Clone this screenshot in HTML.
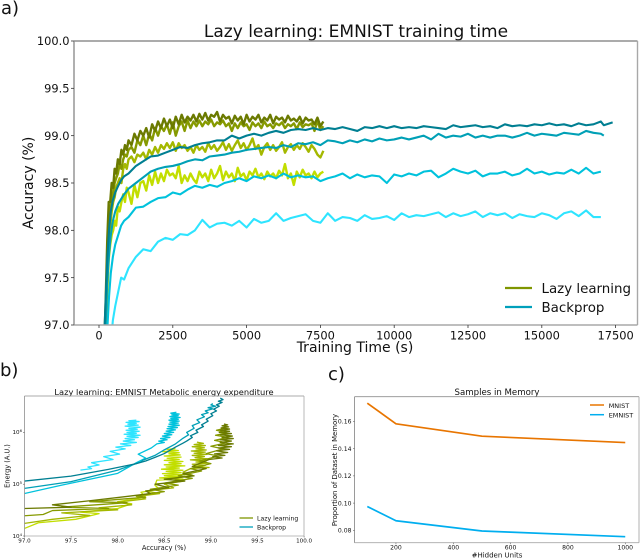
<!DOCTYPE html>
<html>
<head>
<meta charset="utf-8">
<title>Lazy learning charts</title>
<style>
html,body{margin:0;padding:0;background:#fff;width:640px;height:558px;overflow:hidden}
svg{display:block}
text{font-family:"DejaVu Sans","Liberation Sans",sans-serif;fill:#111}
</style>
</head>
<body>
<svg id="fig" width="640" height="558" viewBox="0 0 640 558" xmlns="http://www.w3.org/2000/svg">
  <defs>
    <clipPath id="clipA"><rect x="74" y="41" width="563.5" height="284"/></clipPath>
    <clipPath id="clipB"><rect x="24.5" y="396" width="279.5" height="140"/></clipPath>
  </defs>
  <text x="1" y="14" font-size="18">a)</text>
  <text x="0" y="376" font-size="18">b)</text>
  <text x="328" y="380" font-size="18">c)</text>

  <g id="panelA" style="filter:blur(.3px)">
    <text x="356" y="37" font-size="17" text-anchor="middle">Lazy learning: EMNIST training time</text>
    <text x="355" y="352" font-size="14" text-anchor="middle">Training Time (s)</text>
    <text x="0" y="0" font-size="14" text-anchor="middle" transform="translate(33 183) rotate(-90)">Accuracy (%)</text>
    <g id="aMarks"></g>
    <g id="aAxes"></g>
    <g>
      <line x1="505" x2="532" y1="288" y2="288" stroke="#7f9600" stroke-width="2.2"/>
      <text x="541.5" y="293" font-size="13.4">Lazy learning</text>
      <line x1="505" x2="532" y1="307" y2="307" stroke="#00a0bb" stroke-width="2.2"/>
      <text x="541.5" y="312" font-size="13.4">Backprop</text>
    </g>
  </g>

  <g id="panelB" style="filter:blur(.3px)">
    <text x="164" y="395" font-size="8.3" text-anchor="middle">Lazy learning: EMNIST Metabolic energy expenditure</text>
    <text x="164" y="550" font-size="6.7" text-anchor="middle">Accuracy (%)</text>
    <text x="0" y="0" font-size="6.6" text-anchor="middle" transform="translate(9.5 466) rotate(-90)">Energy (A.U.)</text>
    <g id="bMarks"></g>
    <g id="bAxes"></g>
    <g>
      <line x1="239.5" x2="253" y1="518" y2="518" stroke="#7f9600" stroke-width="1.3"/>
      <text x="257" y="520.5" font-size="6.2">Lazy learning</text>
      <line x1="239.5" x2="253" y1="527" y2="527" stroke="#00a0bb" stroke-width="1.3"/>
      <text x="257" y="529.5" font-size="6.2">Backprop</text>
    </g>
  </g>

  <g id="panelC" style="filter:blur(.3px)">
    <text x="497" y="395" font-size="8.6" text-anchor="middle">Samples in Memory</text>
    <text x="497" y="557.5" font-size="7" text-anchor="middle">#Hidden Units</text>
    <text x="0" y="0" font-size="6.9" text-anchor="middle" transform="translate(337 470) rotate(-90)">Proportion of Dataset in Memory</text>
    <g id="cMarks"></g>
    <g id="cAxes"></g>
    <g>
      <line x1="590" x2="604" y1="405" y2="405" stroke="#e87500" stroke-width="1.5"/>
      <text x="608.7" y="408" font-size="6.5">MNIST</text>
      <line x1="590" x2="604" y1="414.7" y2="414.7" stroke="#00aeef" stroke-width="1.5"/>
      <text x="608.7" y="417.5" font-size="6.5">EMNIST</text>
    </g>
  </g>
</svg>

<script>
/* ---------- Panel A data ---------- */
const lazyTime = [180,230,280,330,380,430,480,530,580,640,
700,760,820,880,940,1000,1100,1200,1300,1400,
1500,1600,1700,1800,1900,2000,2100,2200,2300,2400,
2500,2600,2700,2800,2900,3000,3100,3200,3300,3400,
3500,3600,3700,3800,3900,4000,4100,4200,4300,4400,
4500,4600,4700,4800,4900,5000,5100,5200,5300,5400,
5500,5600,5700,5800,5900,6000,6100,6200,6300,6400,
6500,6600,6700,6800,6900,7000,7100,7200,7300,7400,
7500,7600];
const lazyA1 = [96.8,97.3,97.9,98.3,98.3,98.5,98.45,98.65,98.6,98.75,
98.7,98.85,98.8,98.9,98.85,98.95,98.9,99.02,98.95,99.05,
99.0,99.08,98.98,99.12,99.05,99.15,99.08,99.18,99.1,99.17,
99.08,99.2,99.12,99.22,99.14,99.2,99.16,99.22,99.15,99.23,
99.17,99.24,99.16,99.22,99.2,99.25,99.15,99.22,99.18,99.2,
99.13,99.21,99.16,99.2,99.12,99.22,99.15,99.2,99.17,99.22,
99.14,99.19,99.16,99.22,99.13,99.2,99.17,99.19,99.14,99.21,
99.16,99.18,99.15,99.2,99.13,99.19,99.16,99.17,99.12,99.19,
99.1,99.15];
const lazyA2 = [96.7,97.1,97.6,98.0,98.25,98.3,98.4,98.5,98.55,98.6,
98.7,98.65,98.75,98.8,98.78,98.85,98.88,98.82,98.95,98.9,
99.0,98.9,99.02,98.95,99.08,99.0,99.1,99.05,99.12,99.02,
99.14,99.0,99.1,99.15,99.05,99.16,99.08,99.15,99.1,99.16,
99.1,99.15,99.12,99.17,99.1,99.14,99.12,99.16,99.1,99.13,
99.05,99.13,99.08,99.14,99.1,99.12,99.06,99.14,99.1,99.13,
99.08,99.15,99.1,99.12,99.08,99.13,99.11,99.14,99.08,99.12,
99.1,99.13,99.07,99.14,99.09,99.12,99.11,99.13,99.05,99.16,
99.06,99.1];
const lazyA3 = [96.5,97.0,97.5,97.85,98.05,98.2,98.3,98.35,98.45,98.5,
98.55,98.5,98.65,98.7,98.65,98.75,98.78,98.72,98.8,98.78,
98.82,98.75,98.85,98.8,98.88,98.82,98.9,98.86,98.92,98.87,
98.93,98.84,98.92,98.87,98.9,98.84,98.88,98.82,98.9,98.85,
98.88,98.83,98.92,98.86,98.9,98.84,98.88,98.93,98.85,98.91,
98.84,98.9,98.95,98.87,98.92,98.85,98.9,98.97,98.86,98.9,
98.8,98.88,98.92,98.85,98.9,98.84,98.88,98.93,98.82,98.88,
98.91,98.85,98.9,98.86,98.92,98.88,98.83,98.9,98.86,98.8,
98.77,98.84];
const lazyA4 = [96.4,96.9,97.35,97.7,97.85,97.95,98.0,98.1,98.05,98.25,
98.2,98.3,98.38,98.3,98.45,98.4,98.28,98.48,98.35,98.5,
98.52,98.42,98.58,98.48,98.62,98.5,98.6,98.52,98.64,98.58,
98.6,98.55,98.68,98.5,98.58,98.52,98.6,98.54,98.5,98.62,
98.56,98.6,98.52,98.64,98.55,98.6,98.68,98.53,98.62,98.56,
98.6,98.52,98.66,98.57,98.6,98.53,98.62,98.58,98.65,98.56,
98.6,98.54,98.62,98.57,98.6,98.55,98.63,98.58,98.7,98.55,
98.6,98.48,98.62,98.56,98.64,98.58,98.6,98.55,98.62,98.56,
98.6,98.62];
const backTime = [180,230,280,340,400,470,550,650,750,850,
1000,1250,1500,1750,2000,2250,2500,2750,3000,3250,
3500,3750,4000,4250,4500,4750,5000,5250,5500,5750,
6000,6250,6500,6750,7000,7250,7500,7750,8000,8250,
8500,8750,9000,9250,9500,9750,10000,10250,10500,10750,
11000,11250,11500,11750,12000,12250,12500,12750,13000,13250,
13500,13750,14000,14250,14500,14750,15000,15250,15500,15750,
16000,16250,16500,16750,17000,17100,17400];
const backA1 = [96.9,97.3,97.7,98.0,98.2,98.32,98.4,98.47,98.53,98.57,
98.6,98.68,98.73,98.78,98.79,98.82,98.85,98.88,98.87,98.9,
98.92,98.93,98.95,98.95,99.0,98.97,99.0,99.02,99.0,99.03,
99.05,99.03,99.06,99.07,99.06,99.08,99.06,99.08,99.07,99.09,
99.07,99.05,99.09,99.08,99.1,99.08,99.1,99.08,99.09,99.08,
99.1,99.09,99.08,99.07,99.11,99.09,99.1,99.11,99.09,99.1,
99.08,99.12,99.1,99.11,99.1,99.12,99.11,99.13,99.11,99.12,
99.1,99.13,99.11,99.12,99.15,99.11,99.14];
const backA2 = [96.7,97.1,97.45,97.75,97.95,98.1,98.2,98.28,98.33,98.38,
98.44,98.5,98.56,98.62,98.65,98.67,98.68,98.7,98.73,98.75,
98.74,98.78,98.79,98.8,98.82,98.83,98.85,98.86,98.87,98.88,
98.87,98.9,98.88,98.92,98.91,98.93,98.9,98.95,98.94,98.92,
98.95,98.93,98.96,98.94,98.97,98.95,98.96,98.98,98.96,98.98,
99.0,98.96,99.02,98.98,99.0,98.99,99.02,98.98,99.0,98.98,
99.0,99.0,98.98,99.0,99.03,99.0,99.02,99.01,99.0,99.03,
99.02,99.01,99.05,99.03,99.02,99.0];
const backA3 = [96.2,96.6,96.95,97.3,97.55,97.72,97.85,97.95,98.05,98.1,
98.14,98.24,98.25,98.3,98.34,98.35,98.4,98.38,98.43,98.47,
98.45,98.48,98.46,98.5,98.52,98.55,98.52,98.57,98.55,98.58,
98.55,98.6,98.56,98.58,98.56,98.57,98.52,98.55,98.57,98.6,
98.55,98.59,98.56,98.58,98.57,98.5,98.59,98.57,98.6,98.58,
98.62,98.63,98.56,98.6,98.65,98.62,98.6,98.63,98.57,98.6,
98.6,98.62,98.58,98.6,98.65,98.6,98.62,98.59,98.61,98.6,
98.64,98.6,98.66,98.6,98.62];
const backA4 = [95.6,95.9,96.2,96.5,96.8,97.05,97.2,97.35,97.5,97.48,
97.6,97.72,97.8,97.78,97.88,97.92,97.9,97.96,97.95,98.0,
98.11,98.03,98.07,98.08,98.05,98.1,98.03,98.12,98.08,98.1,
98.18,98.1,98.13,98.15,98.17,98.1,98.08,98.18,98.1,98.14,
98.13,98.1,98.16,98.12,98.13,98.15,98.11,98.18,98.14,98.16,
98.15,98.17,98.19,98.14,98.18,98.15,98.17,98.2,98.14,98.18,
98.16,98.18,98.13,98.17,98.15,98.14,98.18,98.16,98.12,98.18,
98.2,98.15,98.21,98.14,98.14];
const aXTicks = [0,2500,5000,7500,10000,12500,15000,17500];
const aYTicks = ["97.0","97.5","98.0","98.5","99.0","99.5","100.0"];

/* ---------- Panel B data ---------- */
const energyAccL4 = [97,97.15,97.55,97.8,97.6,98.0,98.15,98.0,98.3,98.25,98.45,98.4,
98.42,98.7,98.45,98.66,98.5,98.72,98.48,98.68,98.52,98.7,98.47,98.66,98.52,98.72,98.5,98.68,98.55,98.7,98.5,98.66,98.53,98.68,98.5,98.67,98.55,98.66,98.48,98.65,98.53,98.62];
const energyL4 = [1.4e4,1.8e4,2.1e4,2.7e4,2.9e4,3.4e4,4.2e4,4.6e4,5.6e4,7e4,8e4,9.5e4,
1.2e5,1.26e5,1.32e5,1.39e5,1.46e5,1.53e5,1.6e5,1.68e5,1.77e5,1.86e5,1.95e5,2.05e5,2.15e5,2.26e5,2.37e5,2.49e5,2.61e5,2.74e5,2.88e5,3.02e5,3.17e5,3.33e5,3.5e5,3.67e5,3.86e5,4.05e5,4.25e5,4.46e5,4.68e5,4.9e5];
const energyAccL3 = [97,97.3,97.7,97.4,98.0,97.8,98.15,98.0,98.3,98.2,98.45,98.3,98.6,98.5,98.7,98.6,98.8,98.7,
98.78,98.98,98.82,98.94,98.8,98.97,98.84,98.95,98.78,98.96,98.83,98.93,98.8,98.96,98.82,98.94,98.79,98.95,98.84,98.93,98.8,98.94,98.82,98.92,98.85];
const energyL3 = [1.75e4,2.1e4,2.5e4,2.8e4,3.2e4,3.5e4,4e4,4.5e4,5.2e4,5.8e4,6.6e4,7.4e4,8.5e4,1e5,1.15e5,1.3e5,1.5e5,1.7e5,
2e5,2.1e5,2.2e5,2.31e5,2.43e5,2.55e5,2.68e5,2.81e5,2.95e5,3.1e5,3.26e5,3.42e5,3.59e5,3.77e5,3.96e5,4.16e5,4.37e5,4.58e5,4.81e5,5.05e5,5.3e5,5.57e5,5.85e5,6.14e5,6.5e5];
const energyAccL2 = [97,97.2,97.3,97.9,97.4,98.1,97.7,98.3,98.2,98.5,98.35,98.65,98.5,98.8,98.65,98.9,98.78,99.0,98.88,99.08,98.95,99.13,99.0,99.17,99.04,99.18,99.05,99.17,99.06,99.15];
const energyL2 = [2.46e4,2.6e4,3.1e4,3.4e4,3.6e4,4.4e4,4.6e4,5.6e4,6e4,7.2e4,8e4,9.6e4,1.05e5,1.3e5,1.45e5,1.8e5,2e5,2.5e5,2.8e5,3.5e5,3.9e5,4.8e5,5.4e5,6.3e5,7e5,8e5,8.8e5,9.8e5,1.1e6,1.2e6];
const energyAccL1 = [97,97.5,97.3,97.7,98.1,98.35,98.3,98.55,98.4,98.72,98.5,98.82,98.7,98.95,98.8,
98.98,99.12,99.02,99.15,99.04,99.18,99.06,99.2,99.08,99.22,99.08,99.24,99.1,99.22,99.1,99.24,99.12,99.23,99.1,99.22,99.09,99.2,99.1,99.2,99.11,99.19,99.12,99.18,99.14];
const energyL1 = [3.4e4,3.6e4,4e4,4.8e4,5.8e4,6.6e4,7.4e4,8.6e4,1e5,1.15e5,1.25e5,1.45e5,1.6e5,2e5,2.2e5,
3e5,3.2e5,3.4e5,3.6e5,3.85e5,4.1e5,4.4e5,4.7e5,5e5,5.3e5,5.6e5,6e5,6.4e5,6.8e5,7.2e5,7.6e5,8e5,8.5e5,9e5,9.5e5,1e6,1.05e6,1.1e6,1.16e6,1.22e6,1.28e6,1.34e6,1.4e6,1.45e6];
const energyAccB4 = [97.6,97.72,97.68,97.8,97.72,97.95,97.85,98.02,97.92,98.08,97.98,98.14,98.03,98.2,98.06,98.18,98.08,98.22,98.1,98.24,98.07,98.2,98.1,98.23,98.09,98.21,98.12,98.24,98.08,98.22,98.11,98.2,98.09,98.23,98.12,98.2];
const energyB4 = [1.87e5,2e5,2.15e5,2.35e5,2.6e5,3e5,3.4e5,3.8e5,4.3e5,4.8e5,5.2e5,5.6e5,6e5,6.4e5,6.8e5,7.2e5,7.6e5,8e5,8.4e5,8.8e5,9.2e5,9.6e5,1e6,1.05e6,1.1e6,1.15e6,1.2e6,1.26e6,1.32e6,1.38e6,1.44e6,1.5e6,1.56e6,1.62e6,1.68e6,1.72e6];
const energyAccB3 = [97,97.4,98,98.2,98.3,98.22,98.36,
98.42,98.5,98.44,98.53,98.46,98.56,98.48,98.58,98.5,98.6,98.52,98.62,98.53,98.64,98.54,98.66,98.55,98.65,98.56,98.66,98.55,98.65,98.57,98.67,98.56,98.65,98.58,98.66,98.57,98.63];
const energyB3 = [6.6e4,9.6e4,1.62e5,2.6e5,3.2e5,3.8e5,5e5,
6e5,6.4e5,6.8e5,7.2e5,7.6e5,8e5,8.5e5,9e5,9.5e5,1e6,1.06e6,1.12e6,1.18e6,1.24e6,1.3e6,1.37e6,1.44e6,1.51e6,1.58e6,1.65e6,1.72e6,1.79e6,1.86e6,1.94e6,2.02e6,2.1e6,2.18e6,2.26e6,2.35e6,2.45e6];
const energyAccB2 = [97,97.5,98,98.25,98.27,98.4,98.5,98.62,98.7,98.76,98.74,98.82,98.8,98.88,98.85,98.93,98.9,98.97,98.94,99.02,98.97,99.05,99.0,99.02];
const energyB2 = [8.3e4,1.12e5,1.87e5,2.7e5,2.9e5,3.6e5,4.6e5,6e5,7.7e5,9e5,1e6,1.2e6,1.35e6,1.55e6,1.75e6,2e6,2.2e6,2.4e6,2.6e6,2.85e6,3e6,3.2e6,3.4e6,3.6e6];
const energyAccB1 = [97,97.5,97.9,98.2,98.3,98.4,98.5,98.55,98.62,98.7,98.74,98.8,98.78,98.86,98.84,98.92,98.9,98.97,98.95,99.02,99.0,99.06,99.03,99.09,99.06,99.12,99.08,99.13,99.1];
const energyB1 = [1.15e5,1.43e5,1.93e5,2.5e5,2.8e5,3.3e5,3.9e5,4.4e5,5.2e5,6.2e5,6.8e5,8e5,8.6e5,1e6,1.1e6,1.3e6,1.4e6,1.65e6,1.8e6,2.1e6,2.3e6,2.6e6,2.8e6,3.2e6,3.4e6,3.8e6,4e6,4.3e6,4.6e6];
const bXTicks = ["97.0","97.5","98.0","98.5","99.0","99.5","100.0"];
const bYExponents = [4,5,6];

/* ---------- Panel C data ---------- */
const hiddenUnits = [100,200,500,1000];
const mnistShare = [0.1735,0.1583,0.1492,0.1445];
const emnistShare = [0.0975,0.087,0.0795,0.0753];
const cXTicks = [200,400,600,800,1000];
const cYTicks = ["0.08","0.10","0.12","0.14","0.16"];

/* ---------- Axis functions ---------- */
const NS = 'http://www.w3.org/2000/svg';
const axA = {x: t => 99 + t * 0.02952, y: v => 325 - (v - 97) * 94.67};
const axB = {x: v => 24.5 + (v - 97) * 93.2, y: e => 536 - (Math.log10(e) - 4) * 51.8};
const axC = {x: u => 367.3 + (u - 100) * 0.2866, y: v => 530.3 - (v - 0.08) * 1360};

function pathOf(xs, ys, ax) {
  const n = Math.min(xs.length, ys.length);
  let d = '';
  for (let i = 0; i < n; i++) {
    d += (i ? 'L' : 'M') + ax.x(xs[i]).toFixed(2) + ' ' + ax.y(ys[i]).toFixed(2);
  }
  return d;
}
function addLine(parent, d, color, width, clip, name) {
  const p = document.createElementNS(NS, 'path');
  p.setAttribute('d', d);
  p.setAttribute('fill', 'none');
  p.setAttribute('stroke', color);
  p.setAttribute('stroke-width', width);
  p.setAttribute('stroke-linejoin', 'round');
  if (clip) p.setAttribute('clip-path', 'url(#' + clip + ')');
  
  
  parent.appendChild(p);
}
function addSeg(parent, x1, y1, x2, y2, color, width) {
  const l = document.createElementNS(NS, 'line');
  l.setAttribute('x1', x1);
  l.setAttribute('y1', y1);
  l.setAttribute('x2', x2);
  l.setAttribute('y2', y2);
  l.setAttribute('stroke', color);
  l.setAttribute('stroke-width', width);
  
  
  parent.appendChild(l);
}
function addLabel(parent, x, y, str, size, anchor) {
  const t = document.createElementNS(NS, 'text');
  t.setAttribute('x', x);
  t.setAttribute('y', y);
  t.setAttribute('font-size', size);
  t.setAttribute('text-anchor', anchor);
  t.textContent = str;
  
  
  parent.appendChild(t);
  return t;
}
function frame(parent, l, t, r, b, width) {
  addSeg(parent, l, t, r, t, '#8f8f8f', width);
  addSeg(parent, l, b, r, b, '#a8a8a8', width);
  addSeg(parent, l, t, l, b, '#8f8f8f', width);
  addSeg(parent, r, t, r, b, '#a8a8a8', width);
}

/* ---------- Panel A ---------- */
const aMarks = document.getElementById('aMarks');
const aAxes = document.getElementById('aAxes');
addLine(aMarks, pathOf(lazyTime, lazyA4, axA), '#c2de00', 2.4, 'clipA', 'lazy-series-4');
addLine(aMarks, pathOf(lazyTime, lazyA3, axA), '#a4b800', 2.4, 'clipA', 'lazy-series-3');
addLine(aMarks, pathOf(lazyTime, lazyA2, axA), '#869a00', 2.4, 'clipA', 'lazy-series-2');
addLine(aMarks, pathOf(lazyTime, lazyA1, axA), '#6b7a00', 2.4, 'clipA', 'lazy-series-1');
addLine(aMarks, pathOf(backTime, backA4, axA), '#2ee4ff', 2.1, 'clipA', 'backprop-series-4');
addLine(aMarks, pathOf(backTime, backA3, axA), '#00c2dc', 2.1, 'clipA', 'backprop-series-3');
addLine(aMarks, pathOf(backTime, backA2, axA), '#00a0b6', 2.1, 'clipA', 'backprop-series-2');
addLine(aMarks, pathOf(backTime, backA1, axA), '#007f92', 2.1, 'clipA', 'backprop-series-1');
frame(aAxes, 74, 41, 637.5, 325, 1.4);
aXTicks.forEach(function (t) {
  const x = axA.x(t);
  addSeg(aAxes, x, 325, x, 328, '#333', 0.8);
  addLabel(aAxes, x, 339.5, String(t), 11.4, 'middle');
});
aYTicks.forEach(function (v) {
  const y = axA.y(parseFloat(v));
  addSeg(aAxes, 71, y, 74, y, '#333', 0.8);
  addLabel(aAxes, 69.5, y + 4.2, v, 11.4, 'end');
});

/* ---------- Panel B ---------- */
const bMarks = document.getElementById('bMarks');
const bAxes = document.getElementById('bAxes');
addLine(bMarks, pathOf(energyAccL4, energyL4, axB), '#c2de00', 1.3, 'clipB', 'energy-lazy-4');
addLine(bMarks, pathOf(energyAccL3, energyL3, axB), '#a4b800', 1.3, 'clipB', 'energy-lazy-3');
addLine(bMarks, pathOf(energyAccL2, energyL2, axB), '#869a00', 1.3, 'clipB', 'energy-lazy-2');
addLine(bMarks, pathOf(energyAccL1, energyL1, axB), '#6b7a00', 1.3, 'clipB', 'energy-lazy-1');
addLine(bMarks, pathOf(energyAccB4, energyB4, axB), '#2ee4ff', 1.3, 'clipB', 'energy-backprop-4');
addLine(bMarks, pathOf(energyAccB3, energyB3, axB), '#00c2dc', 1.3, 'clipB', 'energy-backprop-3');
addLine(bMarks, pathOf(energyAccB2, energyB2, axB), '#00a0b6', 1.3, 'clipB', 'energy-backprop-2');
addLine(bMarks, pathOf(energyAccB1, energyB1, axB), '#007f92', 1.3, 'clipB', 'energy-backprop-1');
frame(bAxes, 24.5, 396, 304, 536, 0.8);
bXTicks.forEach(function (v) {
  const x = axB.x(parseFloat(v));
  addSeg(bAxes, x, 536, x, 537.5, '#444', 0.5);
  addLabel(bAxes, x, 542.5, v, 5.6, 'middle');
});
bYExponents.forEach(function (p) {
  const y = axB.y(Math.pow(10, p));
  addSeg(bAxes, 23, y, 24.5, y, '#444', 0.5);
  const t = addLabel(bAxes, 22, y + 1.8, '10', 5.6, 'end');
  const s = document.createElementNS(NS, 'tspan');
  s.setAttribute('font-size', '3.8');
  s.setAttribute('dy', '-2');
  s.textContent = String(p);
  
  
  t.appendChild(s);
});

/* ---------- Panel C ---------- */
const cMarks = document.getElementById('cMarks');
const cAxes = document.getElementById('cAxes');
addLine(cMarks, pathOf(hiddenUnits, mnistShare, axC), '#e87500', 1.7, null, 'mnist-line');
addLine(cMarks, pathOf(hiddenUnits, emnistShare, axC), '#00aeef', 1.7, null, 'emnist-line');
frame(cAxes, 354.5, 396.7, 639, 542.7, 0.9);
cXTicks.forEach(function (u) {
  const x = axC.x(u);
  addSeg(cAxes, x, 542.7, x, 544.2, '#444', 0.5);
  addLabel(cAxes, x, 549.5, String(u), 6.1, 'middle');
});
cYTicks.forEach(function (v) {
  const y = axC.y(parseFloat(v));
  addSeg(cAxes, 353, y, 354.5, y, '#444', 0.5);
  addLabel(cAxes, 351.5, y + 2.2, v, 6.1, 'end');
});
</script>
</body>
</html>
